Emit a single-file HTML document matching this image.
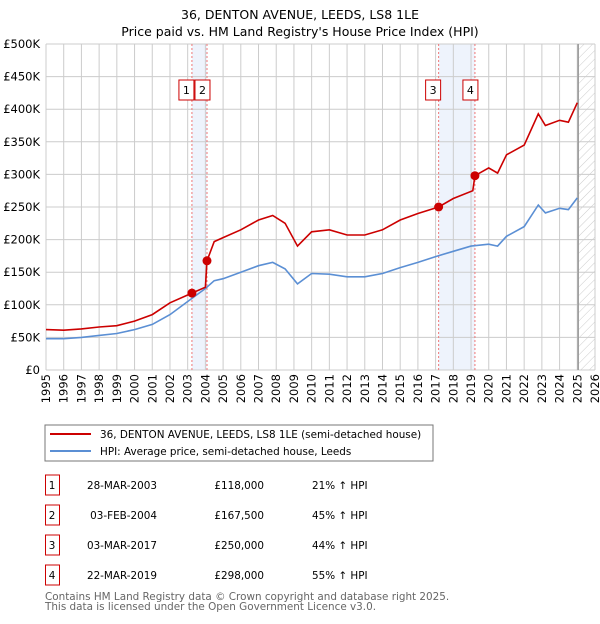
<!DOCTYPE html>
<html><head><meta charset="utf-8"><style>
body{margin:0;background:#fff;font-family:"DejaVu Sans","Liberation Sans",sans-serif;}
svg text{font-family:"DejaVu Sans","Liberation Sans",sans-serif;}
</style></head><body>
<svg id="c" width="600" height="620" xmlns="http://www.w3.org/2000/svg">
<defs><pattern id="hatch" width="6" height="6" patternUnits="userSpaceOnUse" patternTransform="rotate(45)"><line x1="0" y1="0" x2="0" y2="6" stroke="#ccc" stroke-width="1"/></pattern></defs>
<text x="300" y="19" text-anchor="middle" font-size="12.5">36, DENTON AVENUE, LEEDS, LS8 1LE</text>
<text x="300" y="36" text-anchor="middle" font-size="12.5">Price paid vs. HM Land Registry's House Price Index (HPI)</text>
<g id="plot"></g>
<rect x="45" y="425" width="388" height="36" fill="#fff" stroke="#777"/>
<line x1="50" y1="434" x2="91" y2="434" stroke="#cc0000" stroke-width="2"/>
<text x="100" y="438" font-size="10.4">36, DENTON AVENUE, LEEDS, LS8 1LE (semi-detached house)</text>
<line x1="50" y1="451" x2="91" y2="451" stroke="#5b8fd4" stroke-width="2"/>
<text x="100" y="455" font-size="10.4">HPI: Average price, semi-detached house, Leeds</text>
<g id="table" font-size="10.4"></g>
<text x="45" y="600" font-size="10.4" fill="#666">Contains HM Land Registry data © Crown copyright and database right 2025.</text>
<text x="45" y="610" font-size="10.4" fill="#666">This data is licensed under the Open Government Licence v3.0.</text>
</svg>
<script>
const hpiYears=[1995,1996,1997,1998,1999,2000,2001,2002,2003,2004,2004.5,2005,2006,2007,2007.8,2008.5,2009.2,2010,2011,2012,2013,2014,2015,2016,2017,2018,2019,2020,2020.5,2021,2022,2022.8,2023.2,2024,2024.5,2025];
const hpiValues=[48000,48000,50000,53000,56000,62000,70000,85000,105000,125000,137000,140000,150000,160000,165000,155000,132000,148000,147000,143000,143000,148000,157000,165000,174000,182000,190000,193000,190000,205000,220000,253000,241000,248000,246000,264000];
const priceYears=[1995,1996,1997,1998,1999,2000,2001,2002,2003.24,2004.0,2004.09,2004.5,2005,2006,2007,2007.8,2008.5,2009.2,2010,2011,2012,2013,2014,2015,2016,2017.17,2018,2019.1,2019.22,2020,2020.5,2021,2022,2022.8,2023.2,2024,2024.5,2025];
const priceValues=[62000,61000,63000,66000,68000,75000,85000,103000,118000,127000,167500,197000,203000,215000,230000,237000,225000,190000,212000,215000,207000,207000,215000,230000,240000,250000,263000,275000,298000,310000,302000,330000,345000,393000,375000,383000,380000,410000];
const saleIds=["1","2","3","4"];
const saleYears=[2003.24,2004.09,2017.17,2019.22];
const saleValues=[118000,167500,250000,298000];
const saleDates=["28-MAR-2003","03-FEB-2004","03-MAR-2017","22-MAR-2019"];
const salePrices=["£118,000","£167,500","£250,000","£298,000"];
const saleHpi=["21% ↑ HPI","45% ↑ HPI","44% ↑ HPI","55% ↑ HPI"];
const yTicks=[0,50000,100000,150000,200000,250000,300000,350000,400000,450000,500000];
const yTickLabels=["£0","£50K","£100K","£150K","£200K","£250K","£300K","£350K","£400K","£450K","£500K"];
const xTicks=[1995,1996,1997,1998,1999,2000,2001,2002,2003,2004,2005,2006,2007,2008,2009,2010,2011,2012,2013,2014,2015,2016,2017,2018,2019,2020,2021,2022,2023,2024,2025,2026];

const X0=46,X1=595,Y0=370,Y1=44;
const xs=y=>X0+(y-1995)/(2026-1995)*(X1-X0);
const ys=v=>Y0-v/500000*(Y0-Y1);
const NS="http://www.w3.org/2000/svg";
const plot=document.getElementById('plot');
function mk(tag,attrs,parent){const e=document.createElementNS(NS,tag);for(const k in attrs)e.setAttribute(k,attrs[k]);(parent||plot).appendChild(e);return e;}

let r=mk('rect',{x:X0,y:Y1,width:X1-X0,height:Y0-Y1,fill:'#fff'});


[[0,1],[2,3]].forEach((p,i)=>{
  const s=mk('rect',{x:xs(saleYears[p[0]]),y:Y1,width:xs(saleYears[p[1]])-xs(saleYears[p[0]]),height:Y0-Y1,fill:'#eef3fc'});
  
  
});
const h=mk('rect',{x:xs(2025.05),y:Y1,width:X1-xs(2025.05),height:Y0-Y1,fill:'url(#hatch)'});


xTicks.forEach((t,i)=>{
  const l=mk('line',{x1:xs(t),x2:xs(t),y1:Y1,y2:Y0,stroke:'#ccc','stroke-width':1});
  
  
  const px=xs(t)+4, py=Y0+4;
  const tx=mk('text',{x:px,y:py,'text-anchor':'end','font-size':11.5,transform:'rotate(-90 '+px+' '+py+')'});
  tx.textContent=t;
  
  
});
yTicks.forEach((t,i)=>{
  const l=mk('line',{x1:X0,x2:X1,y1:ys(t),y2:ys(t),stroke:'#ccc','stroke-width':1});
  
  
  const tx=mk('text',{x:X0-6,y:ys(t)+4,'text-anchor':'end','font-size':11.5});
  tx.textContent=yTickLabels[i];
  
  
});
const vl=mk('line',{x1:xs(2025.05),x2:xs(2025.05),y1:Y1,y2:Y0,stroke:'#999','stroke-width':1.5});


saleYears.forEach((sy,i)=>{
  const l=mk('line',{x1:xs(sy),x2:xs(sy),y1:Y1,y2:Y0,stroke:'#e77','stroke-width':1,'stroke-dasharray':'2,2'});
  
  
});
function path(xa,va,col,name){
  const d=xa.map((x,i)=>(i?'L':'M')+xs(x).toFixed(1)+','+ys(va[i]).toFixed(1)).join('');
  const p=mk('path',{d:d,fill:'none',stroke:col,'stroke-width':1.6});
  
  
}
path(hpiYears,hpiValues,'#5b8fd4','hpi-line');
path(priceYears,priceValues,'#cc0000','price-paid-line');
saleYears.forEach((sy,i)=>{
  const c=mk('circle',{cx:xs(sy),cy:ys(saleValues[i]),r:4.5,fill:'#cc0000'});
  
  
  const cx=i%2===0?xs(sy)-5:xs(sy)-4;
  const b=mk('rect',{x:cx-8,y:80,width:15,height:20,fill:'#fff',stroke:'#cc0000'});
  
  
  const t=mk('text',{x:cx-0.5,y:94,'text-anchor':'middle','font-size':11});
  t.textContent=saleIds[i];
  
  
});
const tb=document.getElementById('table');
saleIds.forEach((id,i)=>{
  const y=475+i*30;
  const b=mk('rect',{x:45.5,y:y,width:14,height:20,fill:'#fff',stroke:'#cc0000'},tb);
  
  
  const cells=[[52,id,'middle'],[157,saleDates[i],'end'],[264,salePrices[i],'end'],[312,saleHpi[i],'start']];
  cells.forEach(c=>{
    const t=mk('text',{x:c[0],y:y+14,'text-anchor':c[2]},tb);
    t.textContent=c[1];
    
    
  });
});
</script>
</body></html>
